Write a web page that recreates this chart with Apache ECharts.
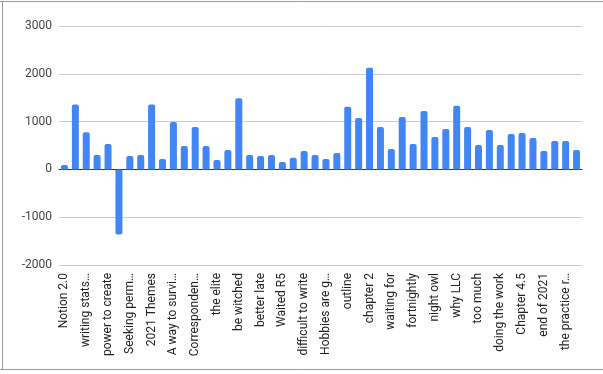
<!DOCTYPE html>
<html>
<head>
<meta charset="utf-8">
<script src="https://cdn.jsdelivr.net/npm/echarts@6/dist/echarts.min.js"></script>
<style>
html,body{margin:0;padding:0;background:#fff;}
#c{width:603px;height:374px;}
</style>
</head>
<body>
<div id="c"></div>
<script>
const categories = [
  "Notion 2.0", "", "writing stats…", "", "power to create", "", "Seeking perm…", "",
  "2021 Themes", "", "A way to survi…", "", "Corresponden…", "", "the elite", "",
  "be witched", "", "better late", "", "Waited R5", "", "difficult to write", "",
  "Hobbies are g…", "", "outline", "", "chapter 2", "", "waiting for", "",
  "fortnightly", "", "night owl", "", "why LLC", "", "too much", "",
  "doing the work", "", "Chapter 4.5", "", "end of 2021", "", "the practice r…", ""
];
const values = [
  90, 1360, 775, 300, 530, -1360, 280, 300,
  1360, 215, 990, 490, 885, 490, 195, 405,
  1490, 300, 280, 300, 155, 245, 385, 300,
  215, 345, 1310, 1075, 2125, 885, 425, 1095,
  530, 1220, 680, 845, 1330, 885, 510, 825,
  510, 740, 760, 655, 385, 595, 595, 405
];
const yTicks = { min: -2000, max: 3000, interval: 1000 };

const chart = echarts.init(document.getElementById('c'), null, { renderer: 'canvas' });
const font = 'Roboto, "Liberation Sans", Arial, sans-serif';
chart.setOption({
  animation: false,
  backgroundColor: '#ffffff',
  grid: { left: 59, right: 21, top: 26, bottom: 109, containLabel: false },
  xAxis: {
    type: 'category',
    data: categories,
    axisTick: { show: false },
    axisLine: { show: true, onZero: true, lineStyle: { color: '#333333', width: 1 } },
    axisLabel: {
      interval: 0,
      rotate: 90,
      margin: 8,
      fontSize: 12,
      fontFamily: font,
      color: '#222222'
    },
    splitLine: { show: false }
  },
  yAxis: {
    type: 'value',
    min: yTicks.min,
    max: yTicks.max,
    interval: yTicks.interval,
    axisLine: { show: false },
    axisTick: { show: false },
    axisLabel: { fontSize: 12, fontFamily: font, color: '#444444', margin: 7, formatter: v => String(v) },
    splitLine: { lineStyle: { color: '#cccccc', width: 1 } }
  },
  series: [{
    type: 'bar',
    data: values.map(v => v < 0 ? { value: v, itemStyle: { borderRadius: [0, 0, 2, 2] } } : v),
    barWidth: 7,
    itemStyle: { color: '#4285F4', borderRadius: [2, 2, 0, 0] }
  }],
  graphic: [
    { type: 'line', shape: { x1: 0, y1: 1.5, x2: 603, y2: 1.5 }, style: { stroke: '#9a9a9a', lineWidth: 1 } },
    { type: 'line', shape: { x1: 2.5, y1: 1, x2: 2.5, y2: 370 }, style: { stroke: '#9a9a9a', lineWidth: 1 } },
    { type: 'line', shape: { x1: 0, y1: 369.5, x2: 603, y2: 369.5 }, style: { stroke: '#9a9a9a', lineWidth: 1 } }
  ]
});
</script>
</body>
</html>
